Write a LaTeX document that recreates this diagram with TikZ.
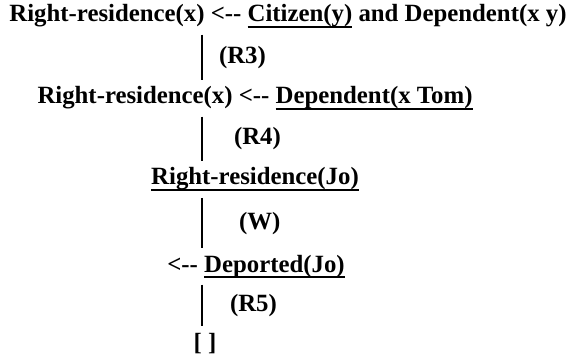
\documentclass[tikz,border=0pt]{standalone}
\usepackage{fontspec}
\setmainfont{Liberation Serif}
\newcommand{\undr}[1]{\leavevmode\vtop{\hbox{#1}\kern-0.5pt\hrule height 1pt}}
\tikzset{
	clause/.style={font=\bfseries\fontsize{12.4}{15}\selectfont, anchor=base, inner sep=3pt},
	rulename/.style={font=\bfseries\fontsize{12.4}{15}\selectfont, right},
	link/.style={line width=1.4pt}
}
\begin{document}
\begin{tikzpicture}[x=0.5pt,y=-0.5pt]
	\useasboundingbox (0,0) rectangle (571,357);
	\node[clause] (goal) at (288,22) {Right-residence(x) <{-}{-} \undr{Citizen(y)} and Dependent(x y)};
	\node[clause] (tom) at (255,104) {Right-residence(x) <{-}{-} \undr{Dependent(x Tom)}};
	\node[clause] (jo) at (255,185) {\undr{Right-residence(Jo)}};
	\node[clause] (deport) at (256,272) {<{-}{-} \undr{Deported(Jo)}};
	\node[clause] (empty) at (205,350) {[ ]};
	\coordinate (spine) at (202,0);
	\draw[link] (goal.south -| spine) -- node[rulename, xshift=4.5pt] {(R3)} (tom.north -| spine);
	\draw[link] (tom.south -| spine) -- node[rulename, xshift=12pt] {(R4)} (jo.north -| spine);
	\draw[link] (jo.south -| spine) -- node[rulename, xshift=14.5pt] {(W)} (deport.north -| spine);
	\draw[link] (deport.south -| spine) -- node[rulename, xshift=10pt] {(R5)} (empty.north -| spine);
\end{tikzpicture}
\end{document}
